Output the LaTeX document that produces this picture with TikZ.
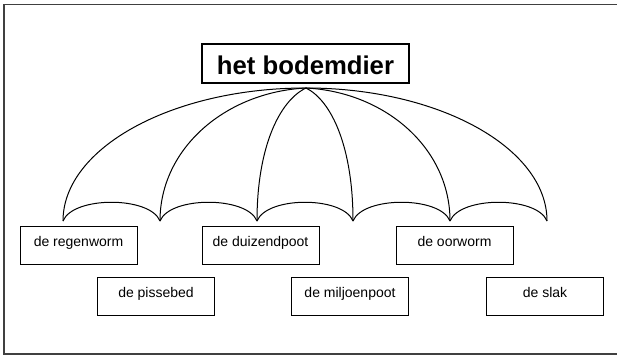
\documentclass[tikz,border=0pt]{standalone}
\usepackage{fontspec}
\setmainfont{Liberation Sans}
\begin{document}
\begin{tikzpicture}[x=1pt,y=-1pt,
  framepen/.style={draw=black!75,line width=1.3pt},
  rib/.style={draw=black,line width=1pt},
  leafbox/.style={draw=black,line width=0.9pt,rectangle,minimum width=117pt,inner xsep=0pt,inner ysep=0pt,
     text height=20pt,text depth=18pt,font=\fontsize{14}{16}\selectfont},
  topbox/.style={draw=black,line width=1.1pt,rectangle,minimum width=207pt,inner xsep=0pt,inner ysep=0pt,
     text height=31pt,text depth=8pt,font=\bfseries\fontsize{25.7}{30}\selectfont}]
\useasboundingbox (0,0) rectangle (617,358);
\fill[white] (0,0) rectangle (617,358);
% frame
\draw[framepen] (617,4.5) -- (4,4.5) -- (4,354) -- (617,354);
% top node
\node[topbox] (top) at (305.5,63.5) {het bodemdier};
\coordinate (apex) at (306,88);
% cusps
\coordinate (c1) at (63,221);
\coordinate (c2) at (160,221);
\coordinate (c3) at (257,221);
\coordinate (c4) at (353,221);
\coordinate (c5) at (450,221);
\coordinate (c6) at (547,221);
% ribs (quarter-ellipse like)
\draw[rib] (apex) .. controls +(-134,0) and +(0,-73) .. (c1);
\draw[rib] (apex) .. controls +(-80,4) and +(0,-73) .. (c2);
\draw[rib] (apex) .. controls +(-27,13) and +(0,-73) .. (c3);
\draw[rib] (apex) .. controls +(26,13) and +(0,-73) .. (c4);
\draw[rib] (apex) .. controls +(79,4) and +(0,-73) .. (c5);
\draw[rib] (apex) .. controls +(133,0) and +(0,-73) .. (c6);
% scallops
\draw[rib] (c1) .. controls +(10,-25) and +(-10,-25) .. (c2);
\draw[rib] (c2) .. controls +(10,-25) and +(-10,-25) .. (c3);
\draw[rib] (c3) .. controls +(10,-25) and +(-10,-25) .. (c4);
\draw[rib] (c4) .. controls +(10,-25) and +(-10,-25) .. (c5);
\draw[rib] (c5) .. controls +(10,-25) and +(-10,-25) .. (c6);
% leaf boxes
\node[leafbox] (regen) at (78.5,245) {de regenworm};
\node[leafbox] (duizend) at (260.5,245) {de duizendpoot};
\node[leafbox] (oor) at (454.5,245) {de oorworm};
\node[leafbox] (pisse) at (156,296.5) {de pissebed};
\node[leafbox] (miljoen) at (350,296.5) {de miljoenpoot};
\node[leafbox] (slak) at (545,296.5) {de slak};
\end{tikzpicture}
\end{document}
